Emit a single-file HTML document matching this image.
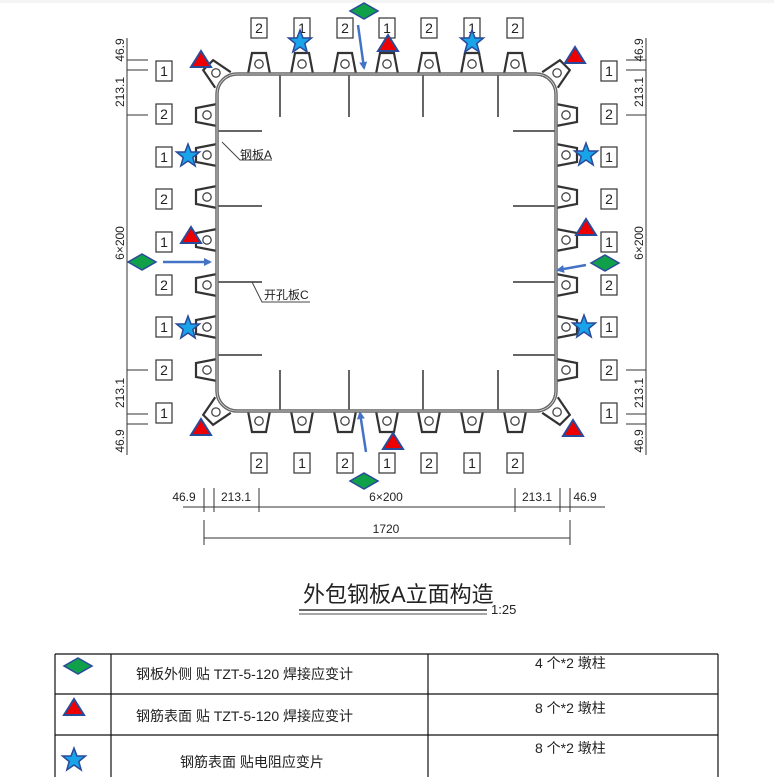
<!DOCTYPE html>
<html><head><meta charset="utf-8"><style>
html,body{margin:0;padding:0;background:#fff;width:774px;height:777px;overflow:hidden}
svg{display:block}
text{font-family:"Liberation Sans","Noto Sans CJK SC",sans-serif;fill:#222}
</style></head><body>
<svg width="774" height="777" viewBox="0 0 774 777" xmlns="http://www.w3.org/2000/svg">
<defs>
<g id="lug"><path d="M-11,0 L-7,-21 L7,-21 L11,0" fill="#fff" stroke="#333" stroke-width="2.2"/><circle cx="0" cy="-10" r="4.2" fill="none" stroke="#444" stroke-width="1.3"/></g>
<g id="lb"><rect x="-8" y="-10" width="16" height="20" fill="#fff" stroke="#333" stroke-width="1.2"/></g>
<g id="tri"><path d="M0,-9 L10,7 L-10,7Z" fill="#e00" stroke="#2a4a9a" stroke-width="2"/></g>
<g id="star"><path d="M0,-12 L3,-4 L11.5,-4 L4.8,1.5 L7.2,10 L0,5 L-7.2,10 L-4.8,1.5 L-11.5,-4 L-3,-4Z" fill="#19a3e8" stroke="#2a4a9a" stroke-width="1.5"/></g>
<g id="dia"><path d="M0,-8 L14,0 L0,8 L-14,0Z" fill="#11a04a" stroke="#2a4a9a" stroke-width="1.5"/></g>
<marker id="ah" markerWidth="8" markerHeight="8" refX="6" refY="4" orient="auto" markerUnits="userSpaceOnUse"><path d="M0,0 L8,4 L0,8Z" fill="#4472c4"/></marker>
</defs>
<rect x="0" y="0" width="774" height="3" fill="#f4f4f4"/>
<g stroke="#666" stroke-width="2" fill="none">
<path d="M280,75 V117 M349,75 V117 M423,75 V117 M498,75 V117"/>
<path d="M280,370 V411 M349,370 V411 M423,370 V411 M498,370 V411"/>
<path d="M218,131 H262 M218,206 H262 M218,282 H262 M218,355 H262"/>
<path d="M513,131 H556 M513,206 H556 M513,282 H556 M513,355 H556"/>
</g>
<g>
<use href="#lug" transform="translate(259,74)"/><use href="#lug" transform="translate(302,74)"/><use href="#lug" transform="translate(345,74)"/><use href="#lug" transform="translate(387,74)"/><use href="#lug" transform="translate(429,74)"/><use href="#lug" transform="translate(472,74)"/><use href="#lug" transform="translate(515,74)"/>
<use href="#lug" transform="translate(259,411) rotate(180)"/><use href="#lug" transform="translate(302,411) rotate(180)"/><use href="#lug" transform="translate(345,411) rotate(180)"/><use href="#lug" transform="translate(387,411) rotate(180)"/><use href="#lug" transform="translate(429,411) rotate(180)"/><use href="#lug" transform="translate(472,411) rotate(180)"/><use href="#lug" transform="translate(515,411) rotate(180)"/>
<use href="#lug" transform="translate(217,115) rotate(-90)"/><use href="#lug" transform="translate(217,155) rotate(-90)"/><use href="#lug" transform="translate(217,197) rotate(-90)"/><use href="#lug" transform="translate(217,240) rotate(-90)"/><use href="#lug" transform="translate(217,285) rotate(-90)"/><use href="#lug" transform="translate(217,327) rotate(-90)"/><use href="#lug" transform="translate(217,370) rotate(-90)"/>
<use href="#lug" transform="translate(556,115) rotate(90)"/><use href="#lug" transform="translate(556,155) rotate(90)"/><use href="#lug" transform="translate(556,197) rotate(90)"/><use href="#lug" transform="translate(556,240) rotate(90)"/><use href="#lug" transform="translate(556,285) rotate(90)"/><use href="#lug" transform="translate(556,327) rotate(90)"/><use href="#lug" transform="translate(556,370) rotate(90)"/>
<use href="#lug" transform="translate(223,80) rotate(-45)"/><use href="#lug" transform="translate(550,80) rotate(45)"/><use href="#lug" transform="translate(223,405) rotate(-135)"/><use href="#lug" transform="translate(550,405) rotate(135)"/>
</g>
<rect x="217" y="74" width="339" height="337" rx="20" fill="none" stroke="#666" stroke-width="3.5"/>
<rect x="217" y="74" width="339" height="337" rx="20" fill="none" stroke="#ddd" stroke-width="0.8"/>
<path d="M222,142 L240,160 H272" stroke="#444" fill="none" stroke-width="1"/>
<text x="240" y="159" font-size="12">钢板A</text>
<path d="M252,282 L262,302 H310" stroke="#444" fill="none" stroke-width="1"/>
<text x="264" y="299" font-size="12">开孔板C</text>
<g font-size="14" text-anchor="middle">
<use href="#lb" x="259" y="28"/><text x="259" y="33">2</text><use href="#lb" x="302" y="28"/><text x="302" y="33">1</text><use href="#lb" x="345" y="28"/><text x="345" y="33">2</text><use href="#lb" x="387" y="28"/><text x="387" y="33">1</text><use href="#lb" x="429" y="28"/><text x="429" y="33">2</text><use href="#lb" x="472" y="28"/><text x="472" y="33">1</text><use href="#lb" x="515" y="28"/><text x="515" y="33">2</text>
<use href="#lb" x="259" y="463"/><text x="259" y="468">2</text><use href="#lb" x="302" y="463"/><text x="302" y="468">1</text><use href="#lb" x="345" y="463"/><text x="345" y="468">2</text><use href="#lb" x="387" y="463"/><text x="387" y="468">1</text><use href="#lb" x="429" y="463"/><text x="429" y="468">2</text><use href="#lb" x="472" y="463"/><text x="472" y="468">1</text><use href="#lb" x="515" y="463"/><text x="515" y="468">2</text>
<use href="#lb" x="164" y="71"/><text x="164" y="76">1</text><use href="#lb" x="164" y="114"/><text x="164" y="119">2</text><use href="#lb" x="164" y="157"/><text x="164" y="162">1</text><use href="#lb" x="164" y="199"/><text x="164" y="204">2</text><use href="#lb" x="164" y="242"/><text x="164" y="247">1</text><use href="#lb" x="164" y="285"/><text x="164" y="290">2</text><use href="#lb" x="164" y="327"/><text x="164" y="332">1</text><use href="#lb" x="164" y="370"/><text x="164" y="375">2</text><use href="#lb" x="164" y="413"/><text x="164" y="418">1</text>
<use href="#lb" x="609" y="71"/><text x="609" y="76">1</text><use href="#lb" x="609" y="114"/><text x="609" y="119">2</text><use href="#lb" x="609" y="157"/><text x="609" y="162">1</text><use href="#lb" x="609" y="199"/><text x="609" y="204">2</text><use href="#lb" x="609" y="242"/><text x="609" y="247">1</text><use href="#lb" x="609" y="285"/><text x="609" y="290">2</text><use href="#lb" x="609" y="327"/><text x="609" y="332">1</text><use href="#lb" x="609" y="370"/><text x="609" y="375">2</text><use href="#lb" x="609" y="413"/><text x="609" y="418">1</text>
</g>
<g stroke="#333" stroke-width="1" fill="none">
<path d="M127,38 V455 M127,60 H148 M127,70 H148 M127,115 H148 M127,370 H148 M127,414 H148 M127,424 H148"/>
<path d="M646,38 V455 M626,60 H646 M626,70 H646 M626,115 H646 M626,370 H646 M626,414 H646 M626,424 H646"/>
<path d="M183,507 H605 M204,488 V512 M214,488 V512 M259,488 V512 M515,488 V512 M560,488 V512 M570,488 V512"/>
<path d="M204,538 H570 M204,520 V545 M570,520 V545"/>
</g>
<g font-size="12">
<text transform="translate(124,50) rotate(-90)" text-anchor="middle">46.9</text>
<text transform="translate(124,92) rotate(-90)" text-anchor="middle">213.1</text>
<text transform="translate(124,243) rotate(-90)" text-anchor="middle">6×200</text>
<text transform="translate(124,393) rotate(-90)" text-anchor="middle">213.1</text>
<text transform="translate(124,441) rotate(-90)" text-anchor="middle">46.9</text>
<text transform="translate(643,50) rotate(-90)" text-anchor="middle">46.9</text>
<text transform="translate(643,92) rotate(-90)" text-anchor="middle">213.1</text>
<text transform="translate(643,243) rotate(-90)" text-anchor="middle">6×200</text>
<text transform="translate(643,393) rotate(-90)" text-anchor="middle">213.1</text>
<text transform="translate(643,441) rotate(-90)" text-anchor="middle">46.9</text>
<text x="184" y="501" text-anchor="middle">46.9</text>
<text x="236" y="501" text-anchor="middle">213.1</text>
<text x="386" y="501" text-anchor="middle">6×200</text>
<text x="537" y="501" text-anchor="middle">213.1</text>
<text x="585" y="501" text-anchor="middle">46.9</text>
<text x="386" y="533" text-anchor="middle">1720</text>
</g>
<g stroke="#4472c4" stroke-width="2.5" marker-end="url(#ah)">
<line x1="358" y1="25" x2="364" y2="68"/>
<line x1="163" y1="262" x2="210" y2="262"/>
<line x1="586" y1="265" x2="558" y2="270"/>
<line x1="366" y1="452" x2="360" y2="413"/>
</g>
<use href="#dia" x="364" y="11"/><use href="#dia" x="142" y="262"/><use href="#dia" x="605" y="263"/><use href="#dia" x="364" y="481"/>
<use href="#tri" x="201" y="60"/><use href="#tri" x="388" y="44"/><use href="#tri" x="575" y="56"/><use href="#tri" x="191" y="236"/><use href="#tri" x="586" y="228"/><use href="#tri" x="201" y="428"/><use href="#tri" x="393" y="442"/><use href="#tri" x="573" y="429"/>
<use href="#star" x="300" y="42"/><use href="#star" x="472" y="42"/><use href="#star" x="188" y="156"/><use href="#star" x="586" y="155"/><use href="#star" x="188" y="328"/><use href="#star" x="584" y="327"/>
<text x="303" y="602" font-size="22">外包钢板A立面构造</text>
<line x1="299" y1="610" x2="487" y2="610" stroke="#333" stroke-width="1.5"/>
<line x1="299" y1="614" x2="487" y2="614" stroke="#888" stroke-width="1.5"/>
<text x="491" y="614" font-size="13" fill="#555">1:25</text>
<g stroke="#111" stroke-width="1.2" fill="none">
<path d="M55,654 H718 M55,694 H718 M55,735 H718 M55,654 V777 M111,654 V777 M428,654 V777 M718,654 V777"/>
</g>
<g font-size="14">
<text x="136" y="679">钢板外侧  贴 TZT-5-120 焊接应变计</text>
<text x="136" y="721">钢筋表面  贴 TZT-5-120 焊接应变计</text>
<text x="180" y="767">钢筋表面  贴电阻应变片</text>
<text x="535" y="668">4 个*2 墩柱</text>
<text x="535" y="713">8 个*2 墩柱</text>
<text x="535" y="753">8 个*2 墩柱</text>
</g>
<use href="#dia" x="78" y="666"/>
<use href="#tri" x="74" y="708"/>
<use href="#star" x="74" y="760"/>
</svg>
</body></html>
